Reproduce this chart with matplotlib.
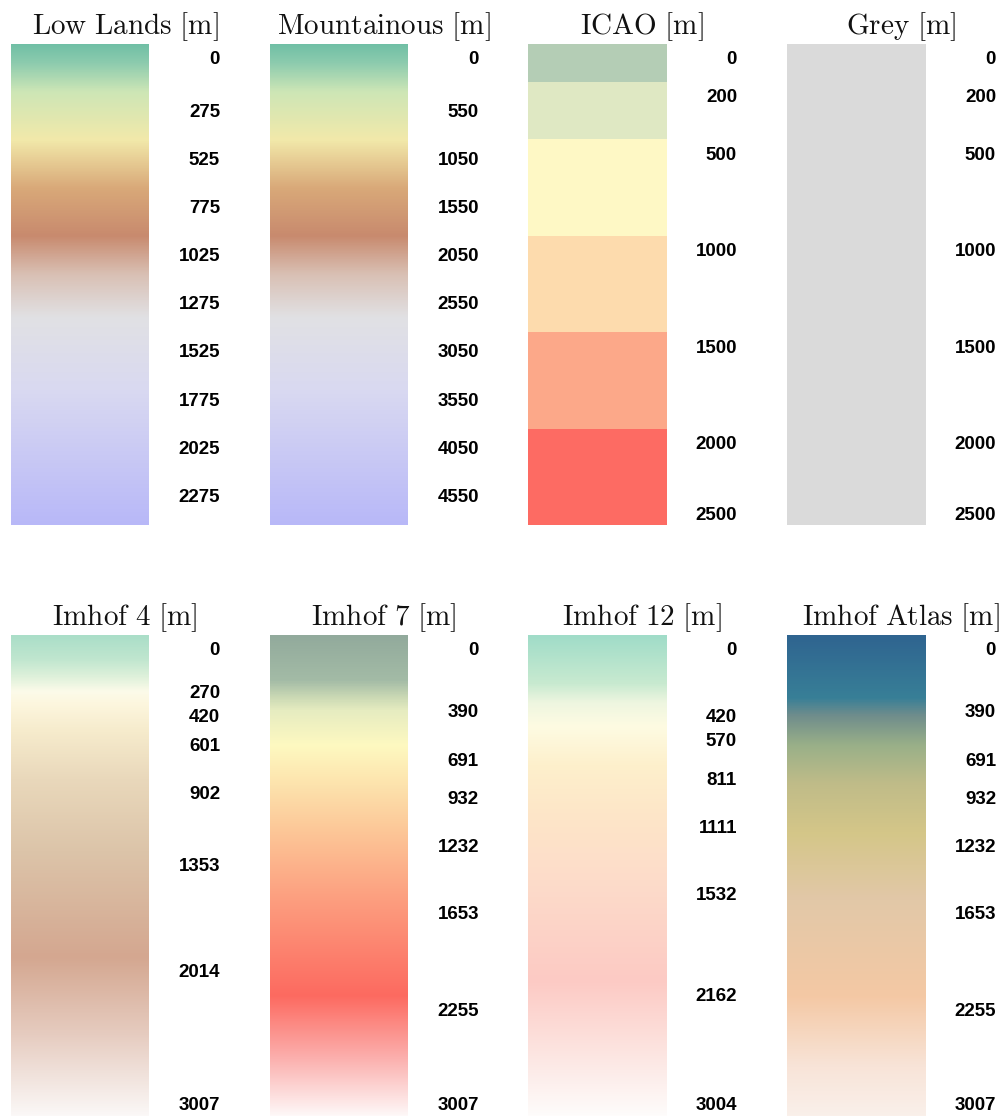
import numpy as np
import matplotlib
matplotlib.use("Agg")
import matplotlib.pyplot as plt
from matplotlib.colors import LinearSegmentedColormap, ListedColormap, BoundaryNorm, Normalize

plt.rcParams['mathtext.fontset'] = 'cm'

# ---------------- data ----------------
titles = ["Low Lands", "Mountainous", "ICAO", "Grey",
          "Imhof 4", "Imhof 7", "Imhof 12", "Imhof Atlas"]

# value range of each scale [m]
vmax = [2500, 5000, 2500, 2500, 3007, 3007, 3004, 3007]

# tick labels of each scale [m]
ticks_lowlands = [0, 275, 525, 775, 1025, 1275, 1525, 1775, 2025, 2275]
ticks_mountain = [0, 550, 1050, 1550, 2050, 2550, 3050, 3550, 4050, 4550]
ticks_icao = [0, 200, 500, 1000, 1500, 2000, 2500]
ticks_grey = [0, 200, 500, 1000, 1500, 2000, 2500]
ticks_imhof4 = [0, 270, 420, 601, 902, 1353, 2014, 3007]
ticks_imhof7 = [0, 390, 691, 932, 1232, 1653, 2255, 3007]
ticks_imhof12 = [0, 420, 570, 811, 1111, 1532, 2162, 3004]
ticks_atlas = [0, 390, 691, 932, 1232, 1653, 2255, 3007]

# colour stops (elevation [m], colour)
stops_lowlands = [0, 100, 250, 500, 750, 1000, 1200, 1425, 1800, 2500]
colors_lowlands = ["#6fbfa5", "#8ccbae", "#cde6b6", "#f2e9aa", "#d9a979",
                   "#c88a6e", "#d9c0b4", "#e1e1e4", "#d9d9f1", "#b8b8f8"]
stops_mountain = [0, 200, 500, 1000, 1500, 2000, 2400, 2850, 3600, 5000]
colors_mountain = colors_lowlands

icao_bounds = [0, 200, 500, 1000, 1500, 2000, 2500]
icao_colors = ["#b4cdb5", "#dfe8c3", "#fef8c5", "#fddbad", "#fca889", "#fd6b63"]

grey_bounds = [0, 2500]
grey_colors = ["#dadada"]

stops_imhof4 = [0, 150, 270, 350, 420, 601, 902, 1353, 2014, 2500, 3007]
colors_imhof4 = ["#aadec8", "#c0e6cf", "#e2f2dc", "#fcfbea", "#fdf7df", "#f6ebcc",
                 "#e9d8bb", "#dcc4a9", "#d4a790", "#e6ccc0", "#fbf8f7"]

stops_imhof7 = [0, 280, 390, 470, 691, 932, 1232, 1653, 2255, 2650, 3007]
colors_imhof7 = ["#92aa9c", "#a3bba6", "#ccdab5", "#e6ecc0", "#fef9c0", "#fde3ad",
                 "#fcc697", "#fc9e7f", "#fd6a60", "#fbb0ae", "#fef8f8"]

stops_imhof12 = [0, 300, 420, 570, 811, 1111, 1532, 2162, 2600, 3004]
colors_imhof12 = ["#a0dcc8", "#c8ead0", "#eef6e0", "#fefbe2", "#fdf0cc", "#fde6c8",
                  "#fddcca", "#fccac4", "#fce4e0", "#fefcfb"]

stops_atlas = [0, 390, 500, 691, 932, 1232, 1653, 2255, 2700, 3007]
colors_atlas = ["#2f6490", "#387f97", "#6f8d8c", "#9ab088", "#c0bc88", "#d4c688",
                "#e2c8a8", "#f4c8a4", "#f8e4d8", "#faf0ea"]

ticks = [ticks_lowlands, ticks_mountain, ticks_icao, ticks_grey,
         ticks_imhof4, ticks_imhof7, ticks_imhof12, ticks_atlas]
smooth = {0: (stops_lowlands, colors_lowlands), 1: (stops_mountain, colors_mountain),
          4: (stops_imhof4, colors_imhof4), 5: (stops_imhof7, colors_imhof7),
          6: (stops_imhof12, colors_imhof12), 7: (stops_atlas, colors_atlas)}
discrete = {2: (icao_bounds, icao_colors), 3: (grey_bounds, grey_colors)}

# ---------------- layout ----------------
W, H = 1008, 1117
fig = plt.figure(figsize=(W / 100, H / 100), dpi=100)
col_x = [11, 270, 528, 787]
row_top = [44, 635]
bar_w, bar_h = 138, 481
label_dx = 209
title_dy = 17

for i in range(8):
    r, c = divmod(i, 4)
    x0, y0 = col_x[c], row_top[r]
    ax = fig.add_axes([x0 / W, 1 - (y0 + bar_h) / H, bar_w / W, bar_h / H])
    vm = vmax[i]
    grad = np.linspace(0, vm, 1200)[:, None]
    if i in smooth:
        st, cl = smooth[i]
        cmap = LinearSegmentedColormap.from_list(
            f"c{i}", list(zip(np.array(st) / vm, cl)), N=1024)
        norm = Normalize(0, vm)
    else:
        b, cl = discrete[i]
        cmap = ListedColormap(cl)
        norm = BoundaryNorm(b, len(cl))
    ax.imshow(grad, aspect='auto', cmap=cmap, norm=norm,
              extent=(0, 1, vm, 0), interpolation='nearest')
    ax.set_xlim(0, 1)
    ax.set_ylim(vm, 0)
    ax.axis('off')

    ppu = bar_h / vm
    for t in ticks[i]:
        yv = min(t + 15.5 / ppu, vm - 10 / ppu)
        ax.text(label_dx / bar_w, yv, str(t), transform=ax.get_yaxis_transform(),
                ha='right', va='center', fontsize=13.5, fontweight='bold',
                family='Liberation Sans', color='black', clip_on=False)

    fig.text((x0 + 114) / W, 1 - (y0 - title_dy) / H,
             r"$\mathrm{" + titles[i].replace(" ", r"\ ") + r"\ [m]}$",
             ha='center', va='center', fontsize=21, color='#111111')

fig.savefig("out.png", dpi=100, facecolor='white')
